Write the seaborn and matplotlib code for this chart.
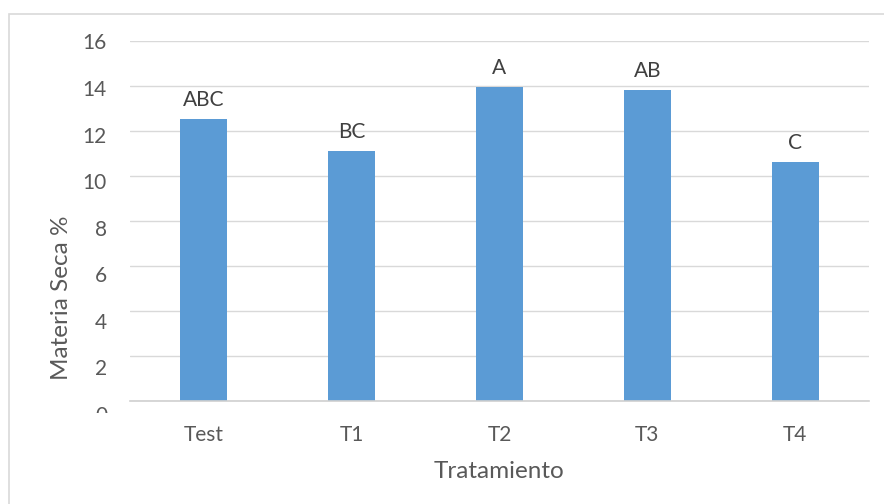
import matplotlib
matplotlib.use("Agg")
import matplotlib.pyplot as plt
import seaborn as sns
import pandas as pd
from matplotlib.patches import Rectangle
from matplotlib.transforms import blended_transform_factory

# Dry matter per treatment with significance letters
tratamientos = ["Test", "T1", "T2", "T3", "T4"]
materia_seca = [12.53, 11.11, 13.96, 13.82, 10.62]
letras = ["ABC", "BC", "A", "AB", "C"]
y_ticks = [0, 2, 4, 6, 8, 10, 12, 14, 16]

df = pd.DataFrame({"Tratamiento": tratamientos, "Materia": materia_seca})

sns.set_theme(style="white")
plt.rcParams["font.family"] = ["Lato", "DejaVu Sans"]

TEXT = "#595959"
GRID = "#D9D9D9"
BAR = "#5B9BD5"

W, H = 884, 504
fig = plt.figure(figsize=(W / 100, H / 100), dpi=100)
fig.patch.set_facecolor("white")


def px_axes(l, t, r, b):
    """Axes placed by pixel edges (origin at top-left)."""
    return fig.add_axes([l / W, 1 - b / H, (r - l) / W, (b - t) / H])


# plot area
left, right, top, bottom = 130, 869, 41, 401
ax = px_axes(left, top, right, bottom)

sns.barplot(data=df, x="Tratamiento", y="Materia", color=BAR, width=0.318,
            saturation=1, ax=ax, zorder=3)
for p in ax.patches:
    p.set_edgecolor("none")

ax.set_ylim(0, 16)
ax.set_xlim(-0.5, len(tratamientos) - 0.5)
ax.set_yticks(y_ticks)
ax.set_yticklabels([])
ax.yaxis.grid(True, color=GRID, linewidth=1.0, zorder=0)
ax.xaxis.grid(False)
for s in ["left", "right", "top"]:
    ax.spines[s].set_visible(False)
ax.spines["bottom"].set_color("#D0D0D0")
ax.spines["bottom"].set_linewidth(1.2)
ax.spines["bottom"].set_zorder(4)
ax.tick_params(axis="y", length=0)
ax.tick_params(axis="x", length=0, pad=17, labelsize=15, labelcolor=TEXT)

ax.set_xlabel("Tratamiento", fontsize=17.5, color=TEXT, labelpad=12)
ax.set_ylabel("")

# y value labels live on their own strip; its lower edge cuts the "0"
lab_top, lab_bottom = 20, 413
px_per_unit = (416 - 43.5) / 16
lab = px_axes(0, lab_top, left, lab_bottom)
lab.set_ylim((416 - lab_bottom) / px_per_unit, (416 - lab_top) / px_per_unit)
lab.set_axis_off()
trans = blended_transform_factory(lab.transAxes, lab.transData)
for t in y_ticks:
    lab.text(107 / left, t, str(t), transform=trans, ha="right", va="center",
             fontsize=15, color=TEXT, clip_on=True)

fig.text(62 / W, 1 - 298 / H, "Materia Seca %", rotation=90, fontsize=17.5,
         color=TEXT, ha="center", va="center")

# significance letters above each bar
for i, (v, t) in enumerate(zip(materia_seca, letras)):
    ax.annotate(t, xy=(i, v), xytext=(0, 9.5), textcoords="offset points",
                ha="center", va="baseline", fontsize=15, color="#404040")

# chart border
fig.patches.append(Rectangle((9 / W, -0.1), 1.1, 1 - 14 / H + 0.1,
                             transform=fig.transFigure, fill=False,
                             edgecolor=GRID, linewidth=1.2))

fig.savefig("out.png", dpi=100, facecolor="white")
